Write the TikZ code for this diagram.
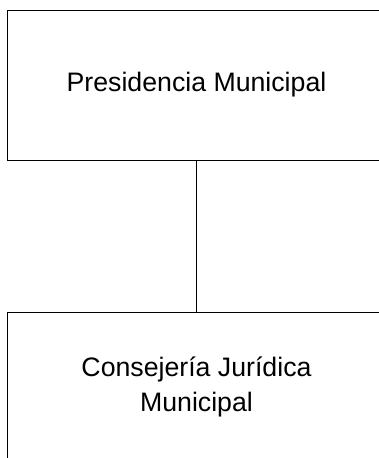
\documentclass[tikz,border=0pt]{standalone}
\usepackage{fontspec}
\setmainfont{Liberation Sans}
\begin{document}
\begin{tikzpicture}[x=1pt,y=-1pt,
  orgbox/.style={draw=black, line width=1pt, minimum width=378pt, minimum height=150pt,
    inner sep=0pt, align=center, font=\fontsize{26.7}{34.5}\selectfont}]
\useasboundingbox (0,0) rectangle (379,458);
\node[orgbox] (pres) at (196.5,85) {Presidencia Municipal};
\node[orgbox] (cons) at (196.5,387) {Consejería Jurídica\\Municipal};
\draw[line width=1pt] (pres.south) -- (cons.north);
\end{tikzpicture}
\end{document}
